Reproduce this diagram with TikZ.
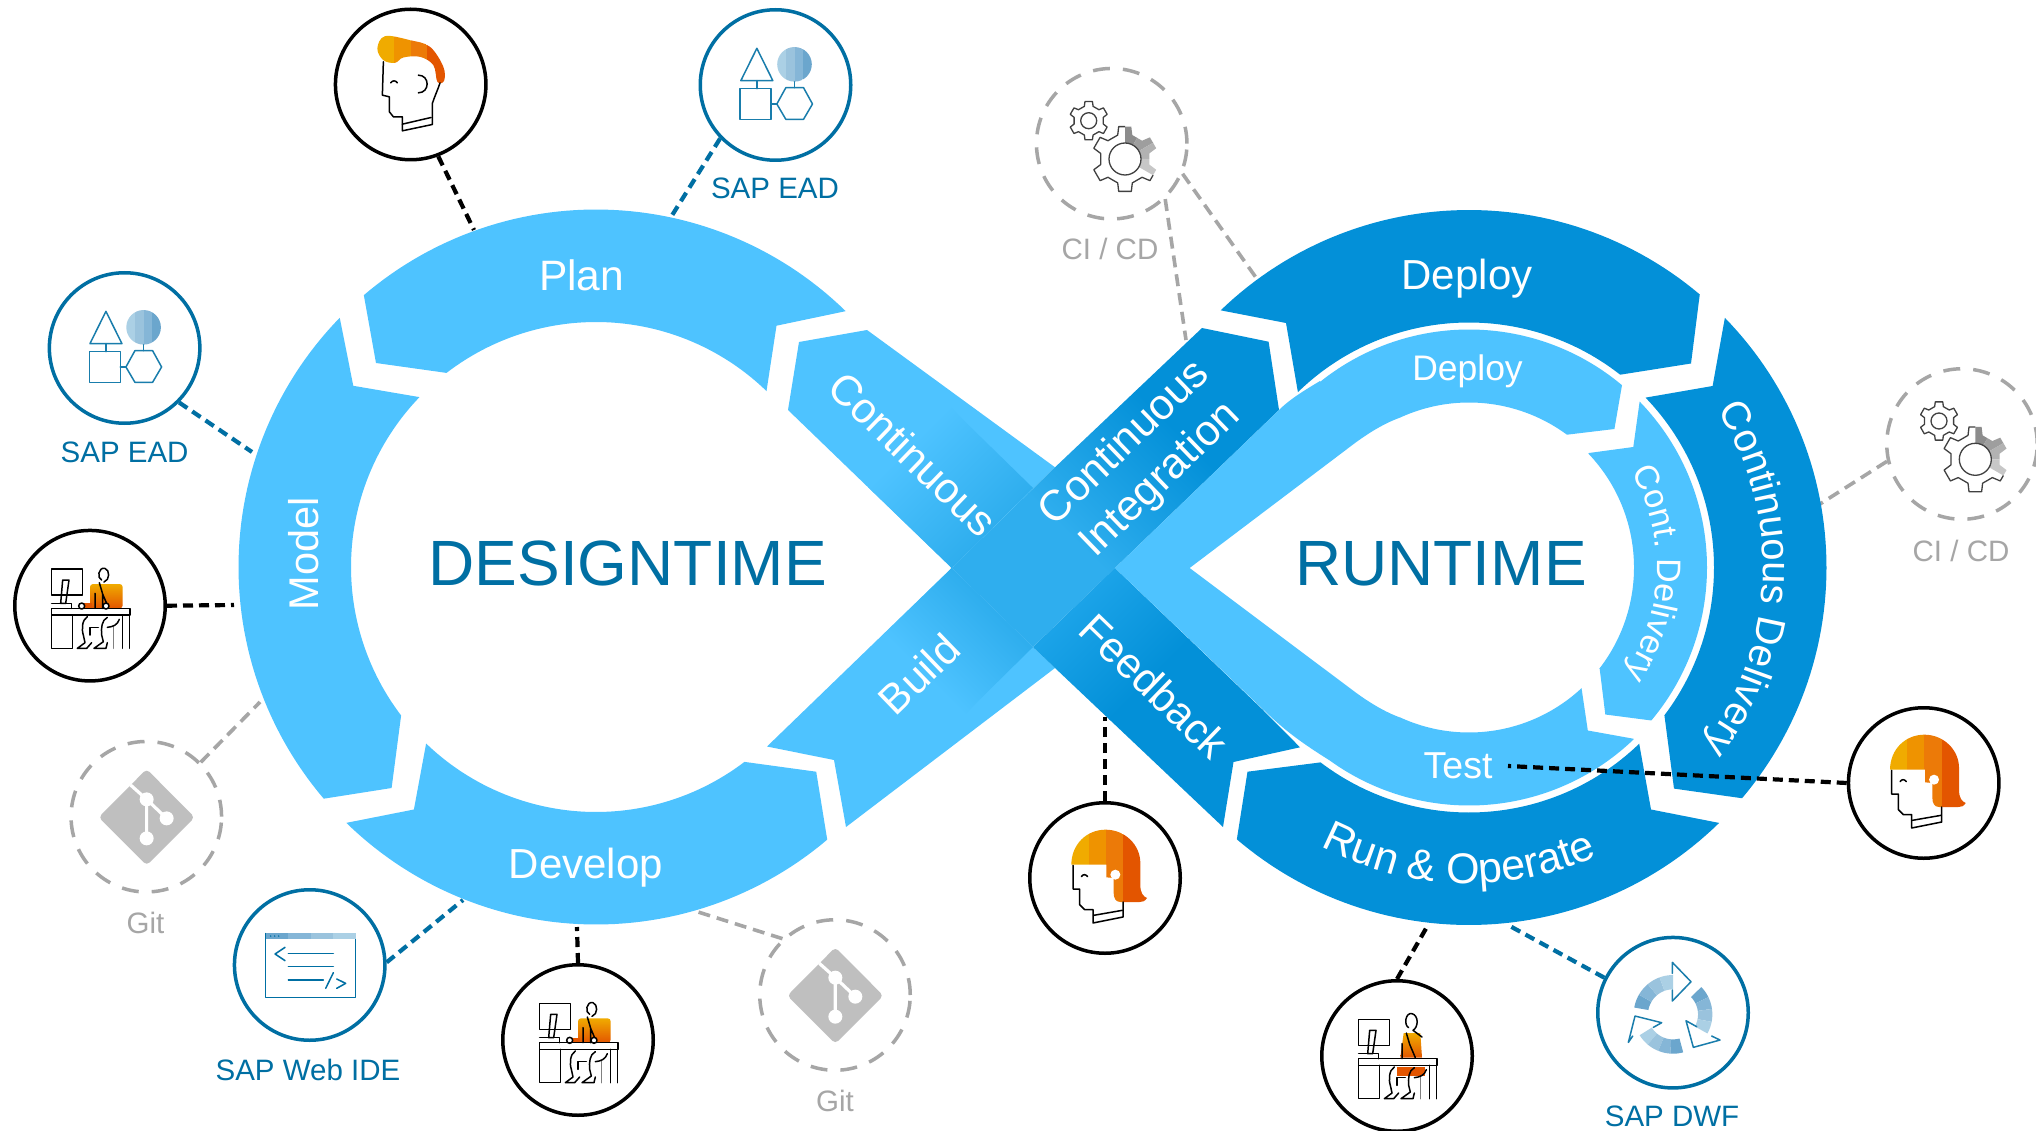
\documentclass[tikz,border=0pt]{standalone}
\usepackage{fontspec}
\setmainfont{Liberation Sans}
\usetikzlibrary{decorations.text}
\definecolor{lightb}{HTML}{4EC3FF}
\definecolor{darkb}{HTML}{0390D8}
\definecolor{midb}{HTML}{2FAEEE}
\definecolor{edgeb}{HTML}{1BA3E8}
\definecolor{teal}{HTML}{006FA3}
\definecolor{gr}{HTML}{A6A6A6}
\definecolor{gitg}{HTML}{BFBFBF}
\definecolor{oa}{HTML}{F0AB00}
\definecolor{ob}{HTML}{EF9300}
\definecolor{oc}{HTML}{EC7A08}
\definecolor{od}{HTML}{E35500}
\definecolor{ba}{HTML}{6BA6CD}
\definecolor{bb}{HTML}{85B6D7}
\definecolor{bc}{HTML}{9AC3DD}
\definecolor{bd}{HTML}{ABD0E5}
\newcommand\fs[1]{\fontsize{#1}{#1}\selectfont}
\newcommand\rarc[5]{plot[domain=#4:#5,samples=60,variable=\myang]({#1+#3*cos(\myang)},{#2+#3*sin(\myang)})}
\newcommand\rarcl[5]{-- plot[domain=#4:#5,samples=60,variable=\myang]({#1+#3*cos(\myang)},{#2+#3*sin(\myang)})}
\newcommand\gradfill[7]{%
\begin{scope}
\clip #1;
\fill[#6,transform canvas={rotate around={#4:(#2,#3)}}] (#2-1500,#3-1000) rectangle (#2-#5+1,#3+1000);
\fill[#7,transform canvas={rotate around={#4:(#2,#3)}}] (#2+#5-1,#3-1000) rectangle (#2+1500,#3+1000);
\shade[left color=#6,right color=#7,transform canvas={rotate around={#4:(#2,#3)}}] (#2-#5,#3-1000) rectangle (#2+#5,#3+1000);
\end{scope}}
\newcommand\gearp[2]{(30-17:#1) \foreach \a in {30,90,...,330} {-- (\a-17:#1) -- (\a-11:#2) -- (\a+11:#2) -- (\a+17:#1)} -- cycle}
\newcommand\bandp[3]{\fill[#3] \rarc{249}{253}{118}{#1}{#2} \rarcl{249}{253}{75}{#2}{#1} -- cycle;}
\tikzset{
 ringlight/.style={fill=lightb},
 ringdark/.style={fill=darkb},
 lbl/.style={inner sep=0pt,text=white},
 capt/.style={inner sep=0pt,anchor=base,font=\fs{29.5}},
 circb/.style={circle,draw=black,line width=3.5pt,minimum size=150.5pt,inner sep=0pt,fill=white},
 circt/.style={circle,draw=teal,line width=3.5pt,minimum size=150.5pt,inner sep=0pt,fill=white},
 circg/.style={circle,draw=gr,line width=3.5pt,dash pattern=on 17pt off 13pt,minimum size=150.5pt,inner sep=0pt},
 connb/.style={draw=black,line width=4.2pt,dash pattern=on 10pt off 6pt},
 connt/.style={draw=teal,line width=4.2pt,dash pattern=on 10pt off 6pt},
 conng/.style={draw=gr,line width=3.6pt,dash pattern=on 12pt off 7pt},
 curved/.style={decorate},
 iconl/.style={line width=1.5pt,line join=round,line cap=round},
 manhead/.pic={\begin{scope}[x=.3333pt,y=-.3333pt,shift={(-272,-253)}]
  \begin{scope}
   \clip plot[smooth cycle,tension=.6] coordinates {(172,145)(195,108)(270,120)(330,140)(370,200)(372,242)(352,245)(340,195)(300,170)(250,172)(225,188)(190,180)};
   \fill[oa] (150,90) rectangle (222,270);
   \fill[ob] (222,90) rectangle (272,270);
   \fill[oc] (272,90) rectangle (322,270);
   \fill[od] (322,90) rectangle (390,270);
  \end{scope}
  \draw[iconl] (190,185) -- (187,285) -- (208,290) -- (208,335) -- (220,350) -- (247,350) -- (247,392) -- (337,373) -- (337,310) .. controls (345,285) and (355,265) .. (360,248);
  \draw[iconl] (247,372) -- (333,352);
  \draw[iconl] (212,248) .. controls (218,240) and (226,240) .. (232,248);
  \draw[iconl] (295,225) .. controls (330,225) and (330,278) .. (295,278);
 \end{scope}},
 womanhead/.pic={\begin{scope}[x=.3333pt,y=-.3333pt,shift={(-266,-250)}]
  \begin{scope}
   \clip (165,210) .. controls (165,150) and (210,105) .. (268,105) .. controls (325,105) and (372,150) .. (372,205) -- (372,270) .. controls (372,295) and (380,305) .. (392,310) .. controls (385,320) and (380,322) .. (370,322) -- (312,322) .. controls (298,322) and (292,310) .. (292,295) -- (292,250) -- (270,248) -- (270,210) -- cycle;
   \fill[oa] (150,90) rectangle (217,340);
   \fill[ob] (217,90) rectangle (268,340);
   \fill[oc] (268,90) rectangle (320,340);
   \fill[od] (320,90) rectangle (400,340);
  \end{scope}
  \fill[white] (297,240) circle[radius=5pt];
  \draw[iconl] (170,212) -- (170,283) -- (190,283) -- (190,330) -- (205,345) -- (230,345) -- (230,385) -- (320,367) -- (320,322);
  \draw[iconl] (232,362) -- (318,347);
  \draw[iconl] (195,246) .. controls (200,238) and (208,238) .. (214,246);
 \end{scope}},
 deskbase/.pic={\begin{scope}[x=.3333pt,y=-.3333pt,shift={(-270,-257)}]
  \draw[iconl] (155,147) rectangle (248,225);
  \draw[iconl] (188,180) -- (207,180) -- (197,250) -- (182,250) -- cycle;
  \draw[iconl] (155,250) -- (215,250) -- (215,265);
  \draw[iconl] (155,265) rectangle (390,285);
  \draw[iconl] (155,285) -- (155,385) -- (217,385) -- (217,285);
  \draw[iconl] (367,285) -- (367,385) (388,285) -- (388,385);
  \draw[iconl,draw=gray] (340,320) -- (340,385);
  \draw[iconl] (262,290) .. controls (245,300) and (245,330) .. (250,345) -- (255,368) -- (232,385) -- (260,385) -- (275,368);
  \draw[iconl] (322,292) .. controls (305,300) and (303,325) .. (305,345) -- (310,365) -- (282,385) -- (318,385) -- (322,368);
  \draw[iconl] (270,345) -- (270,322) -- (295,322);
  \draw[iconl] (358,298) .. controls (352,315) and (340,320) .. (322,322);
 \end{scope}},
 deskman/.pic={\begin{scope}[x=.3333pt,y=-.3333pt,shift={(-270,-257)}]
  \shade[top color=oa,bottom color=od,rounded corners=3pt] (270,192) rectangle (368,265);
  \fill[od] (250,250) rectangle (275,265);
  \draw[iconl] (315,145) .. controls (295,140) and (290,175) .. (305,180) (315,145) .. controls (330,150) and (330,180) .. (312,186);
  \draw[iconl] (298,188) -- (308,222) -- (325,262) (285,220) -- (285,265) (308,222) -- (308,265);
  \fill[white] (245,258) circle[radius=3pt] (318,258) circle[radius=3pt];
  \draw[iconl] (245,258) circle[radius=3pt] (318,258) circle[radius=3pt];
 \end{scope}
 \pic {deskbase};},
 deskwoman/.pic={\begin{scope}[x=.3333pt,y=-.3333pt,shift={(-270,-257)}]
  \shade[top color=oa,bottom color=od] (290,188) -- (340,188) -- (345,262) -- (280,262) -- cycle;
  \fill[od] (270,290) rectangle (355,318);
  \draw[iconl] (315,130) .. controls (295,125) and (290,165) .. (305,172) (315,130) .. controls (335,135) and (335,170) .. (318,180) -- (345,200);
  \draw[iconl] (298,188) -- (308,222) -- (325,262) (285,220) -- (285,265);
 \end{scope}
 \pic {deskbase};},
 shapesicon/.pic={\begin{scope}[x=.3333pt,y=-.3333pt,shift={(-256,-255)}]
  \begin{scope}
   \clip (313,193) circle[radius=17.3pt];
   \fill[bd] (250,130) rectangle (288,255);
   \fill[bc] (288,130) rectangle (314,255);
   \fill[bb] (314,130) rectangle (338,255);
   \fill[ba] (338,130) rectangle (375,255);
  \end{scope}
  \draw[iconl,draw=teal!90] (200,145) -- (152,242) -- (248,242) -- cycle;
  \draw[iconl,draw=teal!90] (200,242) -- (200,266) (313,245) -- (313,263) (243,312) -- (260,312);
  \draw[iconl,draw=teal!90] (150,266) rectangle (243,358);
  \draw[iconl,draw=teal!90] (260,312) -- (287,263) -- (340,263) -- (367,312) -- (340,358) -- (287,358) -- cycle;
 \end{scope}},
 gitsym/.pic={\begin{scope}[x=.3333pt,y=-.3333pt,shift={(-259,-260)}]
  \fill[gitg,rounded corners=4pt] (260,117) -- (404,262) -- (260,406) -- (116,262) -- cycle;
  \draw[white,line width=3.2pt] (212,165) -- (260,208) -- (320,265) (260,208) -- (260,325);
  \fill[white] (260,208) circle[radius=7pt] (320,265) circle[radius=7pt] (260,325) circle[radius=7pt];
 \end{scope}},
 gearsicon/.pic={
  \begin{scope}[shift={(-23,-23)}]
   \draw[line width=1.3pt,draw=black!75,fill=white,line join=round] \gearp{15}{19.5};
   \draw[line width=1.3pt,draw=black!75] (0,0) circle[radius=8pt];
  \end{scope}
  \begin{scope}[shift={(13.3,15.3)}]
   \fill[white] \gearp{25}{33};
   \begin{scope}
    \clip \gearp{25}{33};
    \fill[black!45] (0,0) -- (270:50) -- (300:50) -- cycle;
    \fill[black!38] (0,0) -- (300:50) -- (330:50) -- cycle;
    \fill[black!30] (0,0) -- (330:50) -- (0:50) -- cycle;
    \fill[black!22] (0,0) -- (0:50) -- (30:50) -- cycle;
   \end{scope}
   \fill[white] (0,0) circle[radius=16pt];
   \draw[line width=1.3pt,draw=black!75] (0,0) circle[radius=16pt];
   \begin{scope}
    \clip (0,0) -- (30:60) -- (90:60) -- (150:60) -- (210:60) -- (270:60) -- cycle;
    \draw[line width=1.3pt,draw=black!75,line join=round] \gearp{25}{33};
   \end{scope}
  \end{scope}},
 codeicon/.pic={\begin{scope}[x=.3333pt,y=-.3333pt,shift={(-269,-255)}]
  \fill[ba] (137,158) rectangle (205,178);
  \fill[bb] (205,158) rectangle (272,178);
  \fill[bc] (272,158) rectangle (340,178);
  \fill[bd] (340,158) rectangle (407,178);
  \fill[teal] (152,168) circle[radius=.8pt] (164,168) circle[radius=.8pt] (176,168) circle[radius=.8pt];
  \draw[iconl,draw=teal,line cap=butt] (137,158) -- (137,353) -- (407,353) -- (407,178);
  \draw[iconl,draw=teal] (205,220) -- (340,220) (205,260) -- (340,260) (205,300) -- (310,300);
  \draw[iconl,draw=teal] (195,202) -- (165,222) -- (195,242);
  \draw[iconl,draw=teal] (340,278) -- (317,325);
  \draw[iconl,draw=teal] (350,297) -- (377,310) -- (350,325);
 \end{scope}},
 recycleicon/.pic={\begin{scope}[x=.3333pt,y=-.3333pt,shift={(-249,-248)}]
  \bandp{190}{210}{ba}
  \bandp{210}{230}{bb}
  \bandp{230}{250}{bc}
  \bandp{250}{270}{bd}
  \bandp{-44}{-26}{ba}
  \bandp{-26}{-8}{bb}
  \bandp{-8}{11}{bc}
  \bandp{11}{29}{bd}
  \bandp{148}{130}{bd}
  \bandp{130}{112}{bc}
  \bandp{112}{94}{bb}
  \bandp{94}{75}{ba}
  \draw[iconl,draw=teal!90] (247,130) -- (247,97) -- (303,155) -- (247,213) -- (247,180);
  \draw[iconl,draw=teal!90] (320,290) -- (288,272) -- (310,352) -- (390,330) -- (365,318);
  \draw[iconl,draw=teal!90] (190,292) -- (215,278) -- (135,258) -- (115,337) -- (128,318);
 \end{scope}}
}
\begin{document}
\begin{tikzpicture}[x=1pt,y=-1pt]
\useasboundingbox[fill=white] (0,0) rectangle (2036,1131);
% ring anchor points for connectors
\coordinate (tPlan) at (474,230);
\coordinate (tEadTop) at (671,217);
\coordinate (tEadLeft) at (252,452);
\coordinate (tDeskLeft) at (234,605);
\coordinate (tGitLeft) at (260,702);
\coordinate (tIde) at (463,900);
\coordinate (tDeskBot) at (577,927);
\coordinate (tGitBot) at (695,911);
\coordinate (tFeed) at (1105,717);
\coordinate (tOperate) at (1428,925);
\coordinate (tDwf) at (1508,925);
\coordinate (tTest) at (1508,766);
\coordinate (tDelivery) at (1820,504);
\coordinate (tIntegr) at (1186,340);
\coordinate (tDeploy) at (1257,279);
% tool circles
\node[circb] (cMan) at (410.7,84.5) {};
\node[circt] (cEadTop) at (775.5,85) {};
\node[circg] (cCiTop) at (1111.7,143.7) {};
\node[circt] (cEadLeft) at (124.6,348) {};
\node[circb] (cDeskLeft) at (90,605.7) {};
\node[circg] (cGitLeft) at (146.3,816.7) {};
\node[circt] (cIde) at (309.7,965) {};
\node[circb] (cDeskBot) at (578,1040) {};
\node[circg] (cGitBot) at (835,995) {};
\node[circb] (cWoman) at (1105,878) {};
\node[circb] (cDeskOp) at (1397,1056) {};
\node[circt] (cDwf) at (1673,1012.7) {};
\node[circb] (cWomanR) at (1923.7,783) {};
\node[circg] (cCiRight) at (1962,444) {};
% connectors
\draw[connb] (cMan.-69.8) -- (tPlan);
\draw[connt] (cEadTop.-136) -- (tEadTop);
\draw[connt] (cEadLeft.-45) -- (tEadLeft);
\draw[connb] (cDeskLeft.0) -- (tDeskLeft);
\draw[conng] (cGitLeft.45) -- (tGitLeft);
\draw[connt] (cIde.2) -- (tIde);
\draw[connb] (cDeskBot.90) -- (tDeskBot);
\draw[conng] (cGitBot.133) -- (tGitBot);
\draw[connb] (cWoman.90) -- (tFeed);
\draw[connb] (cDeskOp.90) -- (tOperate);
\draw[connt] (cDwf.153) -- (tDwf);
\draw[conng] (cCiRight.193) -- (tDelivery);
\draw[conng] (cCiTop.-46) -- (tIntegr);
\draw[conng] (cCiTop.-23) -- (tDeploy);
% left ring
\fill[ringlight] \rarc{596}{567}{357.5}{229.5}{314.3} -- (776.5,325.7) \rarcl{596}{567}{245}{314.1}{232.4} -- (376,363) -- cycle;
\fill[ringlight] \rarc{596}{567}{357.5}{224.2}{139.6} -- (391.6,788) \rarcl{596}{567}{245}{142.7}{223.9} -- (353.3,385.8) -- cycle;
\fill[ringlight] \rarc{596}{567}{357.5}{49.7}{134.3} -- (413.9,809.5) \rarcl{596}{567}{245}{133.9}{52.7} -- (816.2,771.7) -- cycle;
% right ring, dark
\fill[ringdark] \rarc{1469}{567.5}{357.5}{226}{310.2} -- (1691,363.5) \rarcl{1469}{567.5}{245}{308.1}{225.7} -- (1286,323) -- cycle;
\fill[ringdark] \rarc{1469}{567.5}{357.5}{-44.3}{40.2} -- (1674,788.6) \rarcl{1469}{567.5}{245}{37.1}{-43.9} -- (1712.6,386) -- cycle;
\fill[ringdark] \rarc{1469}{567.5}{357.5}{45.6}{130.5} -- (1247.5,771.7) \rarcl{1469}{567.5}{245}{127.3}{46} -- (1651,809.5) -- cycle;
% crossing, base strips
\fill[ringlight] (799,342) -- (867,330) -- (1055,467.3) -- (951.7,568) -- (788,410) -- cycle;
\fill[ringlight] (767,746.5) -- (834,760) -- (846,827) -- (1055,668) -- (1033,647) -- (951.7,568) -- cycle;
\gradfill{(1115,568) -- (1262,709) -- (1300,747.3) -- (1233.5,762) -- (1223,827) -- (1055,668) -- (1033,647) -- cycle}{1112}{644}{-45}{52}{edgeb}{darkb}
\gradfill{(951.7,568) -- (1033,488) -- (950,407) -- (868,487) -- cycle}{950}{487}{-45}{58}{lightb}{midb}
\gradfill{(951.7,568) -- (1033,647) -- (965,714) -- (883,635) -- cycle}{958}{642}{-135}{47}{midb}{lightb}
\gradfill{(951.7,568) -- (1033,647) -- (1115,568) -- (1279,410) -- (1268.6,341.7) -- (1202,328) -- (1055,467.3) -- cycle}{1115}{475}{45}{75}{midb}{darkb}
% light ribbon
\fill[ringlight] (1115,568) -- (1279,410) .. controls (1290,399) and (1305,390) .. (1320,381) \rarcl{1469}{567.5}{238}{231.3}{310} -- (1614.4,429) \rarcl{1469}{567.5}{165}{306.4}{245.3} .. controls (1385,423) and (1370,432) .. (1355,443) -- (1189.6,568) -- (1355,692) .. controls (1370,703) and (1385,712) .. (1400,717.5) \rarcl{1469}{567.5}{165}{114.7}{47} -- (1587.8,730.5) -- (1633.3,738.7) \rarcl{1469}{567.5}{238}{46.2}{125.8} .. controls (1310,748) and (1290,735) .. (1270,716) -- cycle;
\fill[ringlight] (1589,453) -- (1633.3,447) \rarcl{1469}{567.5}{238}{-44.2}{40} -- (1605.3,714.5) -- (1599.7,669) \rarcl{1469}{567.5}{165}{37.8}{-43.7} -- cycle;
% titles
\node[inner sep=0pt,anchor=base,text=teal,font=\fs{64}] (nDesign) at (627.7,585) {DESIGNTIME};
\node[inner sep=0pt,anchor=base,text=teal,font=\fs{64}] (nRun) at (1441,585) {RUNTIME};
% phase labels
\node[lbl,anchor=base,font=\fs{42.5}] (nPlan) at (581.6,290.3) {Plan};
\node[lbl,anchor=base,font=\fs{41.5},rotate=90] (nModel) at (318.4,554) {Model};
\node[lbl,anchor=base,font=\fs{42}] (nDevelop) at (586,878) {Develop};
\node[lbl,font=\fs{42.5},rotate=-44] (nCont) at (913,454) {Continuous};
\node[lbl,font=\fs{42},rotate=44] (nBuild) at (919,674) {Build};
\node[lbl,font=\fontsize{43}{51}\selectfont,rotate=44,align=center] (nCI) at (1143,462) {Continuous\\Integration};
\node[lbl,font=\fs{42.5},rotate=-44] (nFeed) at (1154,686) {Feedback};
\node[lbl,anchor=base,font=\fs{42}] (nDeploy) at (1467,289.4) {Deploy};
\node[lbl,anchor=base,font=\fs{35.5}] (nDeployL) at (1467.5,380.5) {Deploy};
\node[lbl,anchor=base,font=\fs{37.5}] (nTest) at (1458,778) {Test};
\path[curved,decoration={text along path,text align=center,text={|\fs{34}\color{white}|Cont. Delivery}}] \rarc{1469}{567.5}{188}{-40}{44};
\path[curved,decoration={text along path,text align=center,text={|\fs{40}\color{white}|Continuous Delivery}}] \rarc{1469}{567.5}{294}{-44}{49};
\path[curved,decoration={text along path,text align=center,text={|\fs{43}\color{white}|Run {\&} Operate}}] \rarc{1469}{567.5}{316}{140}{44};
% captions
\node[capt,text=teal] (lEadTop) at (775,199) {SAP EAD};
\node[capt,text=gr] (lCiTop) at (1110,260) {CI / CD};
\node[capt,text=teal] (lEadLeft) at (124.6,462) {SAP EAD};
\node[capt,text=gr] (lGitLeft) at (145.5,933) {Git};
\node[capt,text=teal] (lIde) at (308,1080) {SAP Web IDE};
\node[capt,text=gr] (lGitBot) at (835,1111) {Git};
\node[capt,text=gr] (lCiRight) at (1961,561) {CI / CD};
\node[capt,text=teal] (lDwf) at (1672,1126.5) {SAP DWF};
% icons
\pic at (cMan) {manhead};
\pic at (cEadTop) {shapesicon};
\pic at (cEadLeft) {shapesicon};
\pic at (cCiTop) {gearsicon};
\pic at (cCiRight) {gearsicon};
\pic at (cDeskLeft) {deskman};
\pic at (cDeskBot) {deskman};
\pic at (cDeskOp) {deskwoman};
\pic at (cGitLeft) {gitsym};
\pic at (cGitBot) {gitsym};
\pic at (cIde) {codeicon};
\pic at (cWoman) {womanhead};
\pic at (cWomanR) {womanhead};
\pic at (cDwf) {recycleicon};
% connector over the ribbon
\draw[connb] (cWomanR.180) -- (tTest);
\end{tikzpicture}
\end{document}
